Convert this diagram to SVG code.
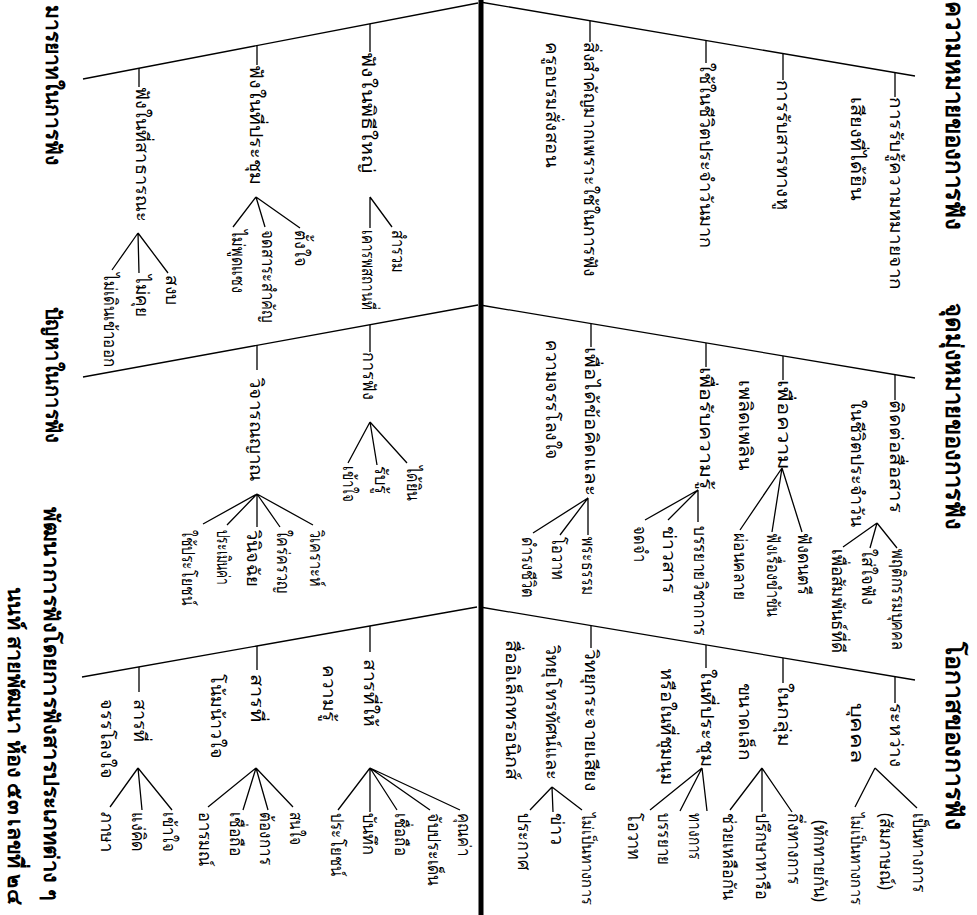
<svg xmlns="http://www.w3.org/2000/svg" width="977" height="915" viewBox="0 0 977 915">
<style>
.t{font-family:"Noto Sans","DejaVu Sans",sans-serif;font-size:18px;fill:#000}
.s{font-size:16px}
.h{font-family:"Noto Sans","DejaVu Sans",sans-serif;font-size:24px;font-weight:bold;fill:#000}
.hl{font-family:"Noto Sans","DejaVu Sans",sans-serif;font-size:21px;font-weight:bold;fill:#000}
.c path{stroke:#000;stroke-width:1.3;fill:none}
</style>
<rect width="977" height="915" fill="#fff"/>
<g id="spine"><rect x="478.5" y="0" width="5" height="915" fill="#000"/></g>
<g class="c" id="connectors">
<path d="M480,2 L915,76 M480,305 L915,378 M480,607 L915,680 M83,79 L478,3 M83,377 L478,305 M82,677 L477,607"/>
<path d="M590,21 V42 M706,40 V63 M783,54 V80 M895,73 V97"/>
<path d="M591,324 V347 M706,343 V367 M783,356 V380 M895,375 V400"/>
<path d="M591,626 V648 M706,645 V668 M783,658 V683 M895,677 V703"/>
<path d="M139,68 V87 M257,45 V65 M370,24 V52"/>
<path d="M257,345 V370 M370,325 V352"/>
<path d="M139,667 V692 M257,646 V670 M370,626 V652"/>
<path d="M588,498 L533,533 M588,498 L560,535 M588,498 L588,535"/>
<path d="M698,490 L645,520 M698,490 L668,520 M698,490 L698,522"/>
<path d="M782,468 L740,530 M782,468 L772,532 M782,468 L802,532"/>
<path d="M877,523 L843,547 M877,523 L870,548 M877,523 L897,548"/>
<path d="M552,787 L530,810 M552,787 L553,812 M552,787 L582,810"/>
<path d="M702,768 L650,810 M702,768 L680,811 M702,768 L707,811"/>
<path d="M762,768 L730,810 M762,768 L762,812 M762,768 L792,812"/>
<path d="M875,768 L855,807 M875,768 L917,808"/>
<path d="M138,233 L112,270 M138,233 L139,273 M138,233 L168,273"/>
<path d="M256,197 L233,227 M256,197 L265,227 M256,197 L300,228"/>
<path d="M370,197 L370,228 M370,197 L392,227"/>
<path d="M257,494 L203,524 M257,494 L227,525 M257,494 L257,527 M257,494 L280,527 M257,494 L313,525"/>
<path d="M370,422 L348,463 M370,422 L377,465 M370,422 L407,463"/>
<path d="M138,768 L110,807 M138,768 L142,810 M138,768 L172,810"/>
<path d="M256,768 L208,807 M256,768 L243,810 M256,768 L268,810 M256,768 L293,807"/>
<path d="M370,768 L338,810 M370,768 L370,812 M370,768 L397,810 M370,768 L430,810 M370,768 L460,810"/>
</g>
<g id="title-meaning"><text class="h" transform="translate(946,1) rotate(90)" textLength="229" lengthAdjust="spacingAndGlyphs">ความหมายของการฟัง</text></g>
<g id="title-purpose"><text class="h" transform="translate(946,303) rotate(90)" textLength="227" lengthAdjust="spacingAndGlyphs">จุดมุ่งหมายของการฟัง</text></g>
<g id="title-occasion"><text class="h" transform="translate(946,642) rotate(90)" textLength="188" lengthAdjust="spacingAndGlyphs">โอกาสของการฟัง</text></g>
<g id="title-manners"><text class="hl" transform="translate(46,5) rotate(90)" textLength="160" lengthAdjust="spacingAndGlyphs">มารยาทในการฟัง</text></g>
<g id="title-problem"><text class="hl" transform="translate(46,307) rotate(90)" textLength="136" lengthAdjust="spacingAndGlyphs">ปัญหาในการฟัง</text></g>
<g id="title-skill"><text class="hl" transform="translate(44,507) rotate(90)" textLength="393" lengthAdjust="spacingAndGlyphs">พัฒนาการฟังโดยการฟังสารประเภทต่าง ๆ</text></g>
<g id="author"><text class="hl" transform="translate(8,587) rotate(90)" textLength="318" lengthAdjust="spacingAndGlyphs">นนท์ สายพัฒนา ห้อง ๕๓ เลขที่ ๒๔</text></g>
<g id="m1"><text class="t" transform="translate(584,42) rotate(90)" textLength="235" lengthAdjust="spacingAndGlyphs">สิ่งสำคัญมากเพราะใช้ในการฟัง</text><text class="t" transform="translate(546,42) rotate(90)" textLength="125" lengthAdjust="spacingAndGlyphs">ครูอบรมสั่งสอน</text></g>
<g id="m2"><text class="t" transform="translate(700,63) rotate(90)" textLength="185" lengthAdjust="spacingAndGlyphs">ใช้ในชีวิตประจำวันมาก</text></g>
<g id="m3"><text class="t" transform="translate(777,80) rotate(90)" textLength="130" lengthAdjust="spacingAndGlyphs">การรับสารทางหู</text></g>
<g id="m4"><text class="t" transform="translate(890,97) rotate(90)" textLength="193" lengthAdjust="spacingAndGlyphs">การรับรู้ความหมายจาก</text><text class="t" transform="translate(851,97) rotate(90)" textLength="103" lengthAdjust="spacingAndGlyphs">เสียงที่ได้ยิน</text></g>
<g id="p1"><text class="t" transform="translate(585,347) rotate(90)" textLength="149" lengthAdjust="spacingAndGlyphs">เพื่อได้ข้อคิดและ</text><text class="t" transform="translate(546,340) rotate(90)" textLength="120" lengthAdjust="spacingAndGlyphs">ความจรรโลงใจ</text></g>
<g id="p1a"><text class="t" transform="translate(522,537) rotate(90)" textLength="61" lengthAdjust="spacingAndGlyphs">ดำรงชีวิต</text></g>
<g id="p1b"><text class="t" transform="translate(552,537) rotate(90)" textLength="43" lengthAdjust="spacingAndGlyphs">โอวาท</text></g>
<g id="p1c"><text class="t" transform="translate(582,537) rotate(90)" textLength="58" lengthAdjust="spacingAndGlyphs">พระธรรม</text></g>
<g id="p2"><text class="t" transform="translate(700,367) rotate(90)" textLength="123" lengthAdjust="spacingAndGlyphs">เพื่อรับความรู้</text></g>
<g id="p2a"><text class="t" transform="translate(634,526) rotate(90)" textLength="36" lengthAdjust="spacingAndGlyphs">จดจำ</text></g>
<g id="p2b"><text class="t" transform="translate(663,526) rotate(90)" textLength="68" lengthAdjust="spacingAndGlyphs">ข่าวสาร</text></g>
<g id="p2c"><text class="t" transform="translate(694,526) rotate(90)" textLength="110" lengthAdjust="spacingAndGlyphs">บรรยายวิชาการ</text></g>
<g id="p3"><text class="t" transform="translate(778,380) rotate(90)" textLength="90" lengthAdjust="spacingAndGlyphs">เพื่อความ</text><text class="t" transform="translate(739,380) rotate(90)" textLength="90" lengthAdjust="spacingAndGlyphs">เพลิดเพลิน</text></g>
<g id="p3a"><text class="t" transform="translate(734,533) rotate(90)" textLength="67" lengthAdjust="spacingAndGlyphs">ผ่อนคลาย</text></g>
<g id="p3b"><text class="t" transform="translate(767,533) rotate(90)" textLength="84" lengthAdjust="spacingAndGlyphs">ฟังเรื่องขำขัน</text></g>
<g id="p3c"><text class="t" transform="translate(798,533) rotate(90)" textLength="62" lengthAdjust="spacingAndGlyphs">ฟังดนตรี</text></g>
<g id="p4"><text class="t" transform="translate(890,400) rotate(90)" textLength="113" lengthAdjust="spacingAndGlyphs">ติดต่อสื่อสาร</text><text class="t" transform="translate(851,400) rotate(90)" textLength="127" lengthAdjust="spacingAndGlyphs">ในชีวิตประจำวัน</text></g>
<g id="p4a"><text class="t" transform="translate(832,549) rotate(90)" textLength="104" lengthAdjust="spacingAndGlyphs">เพื่อสัมพันธ์ที่ดี</text></g>
<g id="p4b"><text class="t" transform="translate(862,549) rotate(90)" textLength="56" lengthAdjust="spacingAndGlyphs">ใส่ใจฟัง</text></g>
<g id="p4c"><text class="t" transform="translate(892,549) rotate(90)" textLength="101" lengthAdjust="spacingAndGlyphs">พฤติกรรมบุคคล</text></g>
<g id="o1"><text class="t" transform="translate(585,649) rotate(90)" textLength="143" lengthAdjust="spacingAndGlyphs">วิทยุกระจายเสียง</text><text class="t" transform="translate(546,645) rotate(90)" textLength="135" lengthAdjust="spacingAndGlyphs">วิทยุโทรทัศน์และ</text><text class="t" transform="translate(506,640) rotate(90)" textLength="140" lengthAdjust="spacingAndGlyphs">สื่ออิเล็กทรอนิกส์</text></g>
<g id="o1a"><text class="t" transform="translate(518,813) rotate(90)" textLength="57" lengthAdjust="spacingAndGlyphs">ประกาศ</text></g>
<g id="o1b"><text class="t" transform="translate(551,813) rotate(90)" textLength="32" lengthAdjust="spacingAndGlyphs">ข่าว</text></g>
<g id="o1c"><text class="t s" transform="translate(582,813) rotate(90)" textLength="92" lengthAdjust="spacingAndGlyphs">ไม่เป็นทางการ</text></g>
<g id="o2"><text class="t" transform="translate(701,669) rotate(90)" textLength="98" lengthAdjust="spacingAndGlyphs">ในที่ประชุม</text><text class="t" transform="translate(661,668) rotate(90)" textLength="117" lengthAdjust="spacingAndGlyphs">หรือในที่ชุมนุม</text></g>
<g id="o2a"><text class="t" transform="translate(628,813) rotate(90)" textLength="47" lengthAdjust="spacingAndGlyphs">โอวาท</text></g>
<g id="o2b"><text class="t" transform="translate(658,813) rotate(90)" textLength="52" lengthAdjust="spacingAndGlyphs">บรรยาย</text></g>
<g id="o2c"><text class="t" transform="translate(689,813) rotate(90)" textLength="47" lengthAdjust="spacingAndGlyphs">ทางการ</text></g>
<g id="o3"><text class="t" transform="translate(778,683) rotate(90)" textLength="64" lengthAdjust="spacingAndGlyphs">ในกลุ่ม</text><text class="t" transform="translate(739,683) rotate(90)" textLength="77" lengthAdjust="spacingAndGlyphs">ขนาดเล็ก</text></g>
<g id="o3a"><text class="t" transform="translate(723,813) rotate(90)" textLength="87" lengthAdjust="spacingAndGlyphs">ช่วยเหลือกัน</text></g>
<g id="o3b"><text class="t" transform="translate(756,813) rotate(90)" textLength="87" lengthAdjust="spacingAndGlyphs">ปรึกษาหารือ</text></g>
<g id="o3c"><text class="t" transform="translate(788,813) rotate(90)" textLength="72" lengthAdjust="spacingAndGlyphs">กึ่งทางการ</text></g>
<g id="o4"><text class="t" transform="translate(890,703) rotate(90)" textLength="64" lengthAdjust="spacingAndGlyphs">ระหว่าง</text><text class="t" transform="translate(851,703) rotate(90)" textLength="60" lengthAdjust="spacingAndGlyphs">บุคคล</text></g>
<g id="o4a"><text class="t s" transform="translate(851,813) rotate(90)" textLength="92" lengthAdjust="spacingAndGlyphs">ไม่เป็นทางการ</text><text class="t" transform="translate(814,820) rotate(90)" textLength="82" lengthAdjust="spacingAndGlyphs">(ทักทายกัน)</text></g>
<g id="o4b"><text class="t" transform="translate(913,813) rotate(90)" textLength="80" lengthAdjust="spacingAndGlyphs">เป็นทางการ</text><text class="t" transform="translate(880,813) rotate(90)" textLength="77" lengthAdjust="spacingAndGlyphs">(สัมภาษณ์)</text></g>
<g id="e1"><text class="t" transform="translate(136,87) rotate(90)" textLength="135" lengthAdjust="spacingAndGlyphs">ฟังในที่สาธารณะ</text></g>
<g id="e1a"><text class="t" transform="translate(104,273) rotate(90)" textLength="94" lengthAdjust="spacingAndGlyphs">ไม่เดินเข้าออก</text></g>
<g id="e1b"><text class="t" transform="translate(136,275) rotate(90)" textLength="42" lengthAdjust="spacingAndGlyphs">ไม่คุย</text></g>
<g id="e1c"><text class="t" transform="translate(166,275) rotate(90)" textLength="30" lengthAdjust="spacingAndGlyphs">สงบ</text></g>
<g id="e2"><text class="t" transform="translate(250,65) rotate(90)" textLength="120" lengthAdjust="spacingAndGlyphs">ฟังในที่ประชุม</text></g>
<g id="e2a"><text class="t" transform="translate(232,230) rotate(90)" textLength="63" lengthAdjust="spacingAndGlyphs">ไม่พูดแซง</text></g>
<g id="e2b"><text class="t" transform="translate(262,230) rotate(90)" textLength="92" lengthAdjust="spacingAndGlyphs">จดสาระสำคัญ</text></g>
<g id="e2c"><text class="t" transform="translate(295,230) rotate(90)" textLength="37" lengthAdjust="spacingAndGlyphs">ตั้งใจ</text></g>
<g id="e3"><text class="t" transform="translate(362,52) rotate(90)" textLength="121" lengthAdjust="spacingAndGlyphs">ฟังในพิธีใหญ่</text></g>
<g id="e3a"><text class="t" transform="translate(362,230) rotate(90)" textLength="80" lengthAdjust="spacingAndGlyphs">เคารพสถานที่</text></g>
<g id="e3b"><text class="t" transform="translate(392,230) rotate(90)" textLength="43" lengthAdjust="spacingAndGlyphs">สำรวม</text></g>
<g id="q1"><text class="t" transform="translate(250,378) rotate(90)" textLength="104" lengthAdjust="spacingAndGlyphs">วิจารณญาณ</text></g>
<g id="q1a"><text class="t" transform="translate(182,530) rotate(90)" textLength="75" lengthAdjust="spacingAndGlyphs">ใช้ประโยชน์</text></g>
<g id="q1b"><text class="t" transform="translate(217,530) rotate(90)" textLength="55" lengthAdjust="spacingAndGlyphs">ประเมินค่า</text></g>
<g id="q1c"><text class="t" transform="translate(247,530) rotate(90)" textLength="57" lengthAdjust="spacingAndGlyphs">วินิจฉัย</text></g>
<g id="q1d"><text class="t" transform="translate(277,530) rotate(90)" textLength="63" lengthAdjust="spacingAndGlyphs">ใคร่ครวญ</text></g>
<g id="q1e"><text class="t" transform="translate(310,530) rotate(90)" textLength="57" lengthAdjust="spacingAndGlyphs">วิเคราะห์</text></g>
<g id="q2"><text class="t" transform="translate(363,352) rotate(90)" textLength="48" lengthAdjust="spacingAndGlyphs">การฟัง</text></g>
<g id="q2a"><text class="t" transform="translate(343,466) rotate(90)" textLength="36" lengthAdjust="spacingAndGlyphs">เข้าใจ</text></g>
<g id="q2b"><text class="t" transform="translate(375,466) rotate(90)" textLength="28" lengthAdjust="spacingAndGlyphs">รับรู้</text></g>
<g id="q2c"><text class="t" transform="translate(407,466) rotate(90)" textLength="35" lengthAdjust="spacingAndGlyphs">ได้ยิน</text></g>
<g id="s1"><text class="t" transform="translate(134,699) rotate(90)" textLength="43" lengthAdjust="spacingAndGlyphs">สารที่</text><text class="t" transform="translate(101,699) rotate(90)" textLength="80" lengthAdjust="spacingAndGlyphs">จรรโลงใจ</text></g>
<g id="s1a"><text class="t" transform="translate(101,812) rotate(90)" textLength="40" lengthAdjust="spacingAndGlyphs">ภาษา</text></g>
<g id="s1b"><text class="t" transform="translate(132,812) rotate(90)" textLength="40" lengthAdjust="spacingAndGlyphs">แง่คิด</text></g>
<g id="s1c"><text class="t" transform="translate(163,812) rotate(90)" textLength="40" lengthAdjust="spacingAndGlyphs">เข้าใจ</text></g>
<g id="s2"><text class="t" transform="translate(251,674) rotate(90)" textLength="48" lengthAdjust="spacingAndGlyphs">สารที่</text><text class="t" transform="translate(211,674) rotate(90)" textLength="85" lengthAdjust="spacingAndGlyphs">โน้มน้าวใจ</text></g>
<g id="s2a"><text class="t" transform="translate(199,812) rotate(90)" textLength="55" lengthAdjust="spacingAndGlyphs">อารมณ์</text></g>
<g id="s2b"><text class="t" transform="translate(230,812) rotate(90)" textLength="44" lengthAdjust="spacingAndGlyphs">เชื่อถือ</text></g>
<g id="s2c"><text class="t" transform="translate(260,812) rotate(90)" textLength="53" lengthAdjust="spacingAndGlyphs">ต้องการ</text></g>
<g id="s2d"><text class="t" transform="translate(290,812) rotate(90)" textLength="33" lengthAdjust="spacingAndGlyphs">สนใจ</text></g>
<g id="s3"><text class="t" transform="translate(364,659) rotate(90)" textLength="68" lengthAdjust="spacingAndGlyphs">สารที่ให้</text><text class="t" transform="translate(323,665) rotate(90)" textLength="57" lengthAdjust="spacingAndGlyphs">ความรู้</text></g>
<g id="s3a"><text class="t" transform="translate(331,813) rotate(90)" textLength="63" lengthAdjust="spacingAndGlyphs">ประโยชน์</text></g>
<g id="s3b"><text class="t" transform="translate(363,813) rotate(90)" textLength="42" lengthAdjust="spacingAndGlyphs">บันทึก</text></g>
<g id="s3c"><text class="t" transform="translate(395,813) rotate(90)" textLength="43" lengthAdjust="spacingAndGlyphs">เชื่อถือ</text></g>
<g id="s3d"><text class="t" transform="translate(428,813) rotate(90)" textLength="73" lengthAdjust="spacingAndGlyphs">จับประเด็น</text></g>
<g id="s3e"><text class="t" transform="translate(458,813) rotate(90)" textLength="43" lengthAdjust="spacingAndGlyphs">คุณค่า</text></g>
</svg>
